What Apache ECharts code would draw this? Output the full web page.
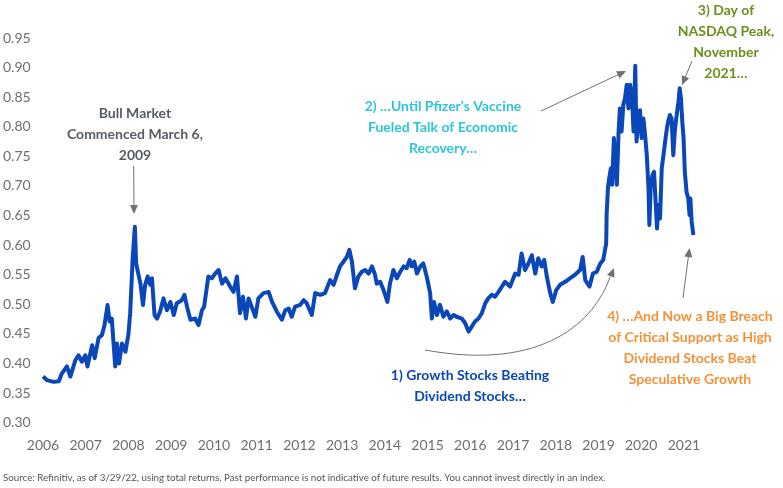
<!DOCTYPE html>
<html>
<head>
<meta charset="utf-8">
<script src="https://cdn.jsdelivr.net/npm/echarts@6/dist/echarts.min.js"></script>
<style>
    html, body { margin: 0; padding: 0; background: #fff; }
    #ratioChart { width: 783px; height: 488px; }
</style>
</head>
<body>
<div id="ratioChart"></div>
<script>
// decimal year of each reading
var years = [
    2006.00, 2006.09, 2006.25, 2006.37, 2006.44, 2006.56, 2006.64, 2006.76, 2006.83, 2006.91,
    2006.99, 2007.04, 2007.15, 2007.21, 2007.30, 2007.38, 2007.44, 2007.51, 2007.56, 2007.61,
    2007.69, 2007.73, 2007.78, 2007.85, 2007.93, 2008.00, 2008.04, 2008.10, 2008.15, 2008.18,
    2008.23, 2008.28, 2008.34, 2008.39, 2008.45, 2008.51, 2008.55, 2008.61, 2008.67, 2008.74,
    2008.82, 2008.90, 2008.98, 2009.06, 2009.13, 2009.25, 2009.31, 2009.37, 2009.45, 2009.56,
    2009.64, 2009.72, 2009.77, 2009.87, 2009.95, 2010.03, 2010.11, 2010.19, 2010.27, 2010.38,
    2010.46, 2010.54, 2010.61, 2010.68, 2010.75, 2010.81, 2010.85, 2010.97, 2011.04, 2011.16,
    2011.28, 2011.36, 2011.47, 2011.59, 2011.67, 2011.75, 2011.82, 2011.90, 2012.02, 2012.10,
    2012.17, 2012.29, 2012.37, 2012.49, 2012.60, 2012.72, 2012.80, 2012.88, 2012.95, 2013.03,
    2013.11, 2013.17, 2013.23, 2013.30, 2013.38, 2013.46, 2013.54, 2013.62, 2013.70, 2013.77,
    2013.81, 2013.89, 2013.97, 2014.06, 2014.12, 2014.20, 2014.28, 2014.36, 2014.44, 2014.51,
    2014.58, 2014.63, 2014.69, 2014.75, 2014.83, 2014.90, 2014.98, 2015.06, 2015.10, 2015.15,
    2015.22, 2015.29, 2015.37, 2015.45, 2015.53, 2015.61, 2015.68, 2015.80, 2015.88, 2015.96,
    2016.03, 2016.11, 2016.19, 2016.27, 2016.35, 2016.42, 2016.50, 2016.58, 2016.66, 2016.70,
    2016.81, 2016.93, 2017.05, 2017.13, 2017.20, 2017.28, 2017.36, 2017.44, 2017.52, 2017.59,
    2017.67, 2017.73, 2017.79, 2017.87, 2017.93, 2018.01, 2018.10, 2018.22, 2018.33, 2018.45,
    2018.57, 2018.63, 2018.69, 2018.79, 2018.87, 2018.96, 2019.04, 2019.11, 2019.18, 2019.19,
    2019.22, 2019.25, 2019.29, 2019.32, 2019.36, 2019.40, 2019.43, 2019.47, 2019.50, 2019.54,
    2019.58, 2019.62, 2019.66, 2019.70, 2019.74, 2019.78, 2019.82, 2019.86, 2019.89, 2019.93,
    2019.97, 2020.01, 2020.05, 2020.09, 2020.13, 2020.17, 2020.19, 2020.22, 2020.26, 2020.30,
    2020.34, 2020.37, 2020.40, 2020.44, 2020.48, 2020.52, 2020.56, 2020.60, 2020.63, 2020.67,
    2020.71, 2020.75, 2020.79, 2020.83, 2020.87, 2020.90, 2020.93, 2020.96, 2020.99, 2021.02,
    2021.06, 2021.10, 2021.13, 2021.15, 2021.18, 2021.22
];
// dividend / growth ratio
var ratio = [
    0.378, 0.372, 0.369, 0.370, 0.383, 0.395, 0.378, 0.406, 0.414, 0.403,
    0.414, 0.395, 0.431, 0.409, 0.443, 0.448, 0.465, 0.499, 0.471, 0.476,
    0.395, 0.434, 0.400, 0.434, 0.420, 0.450, 0.485, 0.580, 0.631, 0.569,
    0.552, 0.535, 0.499, 0.533, 0.547, 0.533, 0.544, 0.482, 0.476, 0.488,
    0.510, 0.490, 0.504, 0.482, 0.502, 0.507, 0.516, 0.496, 0.474, 0.476,
    0.465, 0.490, 0.496, 0.547, 0.544, 0.552, 0.558, 0.535, 0.544, 0.530,
    0.521, 0.547, 0.485, 0.513, 0.476, 0.510, 0.507, 0.479, 0.510, 0.519,
    0.521, 0.504, 0.488, 0.474, 0.490, 0.493, 0.479, 0.496, 0.499, 0.507,
    0.502, 0.482, 0.519, 0.516, 0.519, 0.541, 0.533, 0.550, 0.564, 0.572,
    0.580, 0.592, 0.572, 0.527, 0.547, 0.555, 0.558, 0.552, 0.564, 0.550,
    0.535, 0.538, 0.524, 0.504, 0.535, 0.558, 0.544, 0.555, 0.564, 0.561,
    0.575, 0.564, 0.572, 0.552, 0.564, 0.569, 0.547, 0.519, 0.476, 0.504,
    0.482, 0.499, 0.479, 0.488, 0.476, 0.482, 0.479, 0.476, 0.468, 0.454,
    0.462, 0.471, 0.476, 0.485, 0.502, 0.510, 0.516, 0.513, 0.521, 0.521,
    0.538, 0.530, 0.552, 0.550, 0.586, 0.558, 0.569, 0.583, 0.552, 0.578,
    0.564, 0.575, 0.547, 0.519, 0.504, 0.524, 0.533, 0.538, 0.544, 0.550,
    0.558, 0.580, 0.541, 0.530, 0.552, 0.555, 0.569, 0.575, 0.603, 0.651,
    0.696, 0.713, 0.730, 0.702, 0.781, 0.735, 0.702, 0.792, 0.831, 0.792,
    0.837, 0.848, 0.871, 0.831, 0.871, 0.854, 0.792, 0.903, 0.775, 0.809,
    0.828, 0.781, 0.814, 0.786, 0.752, 0.696, 0.634, 0.696, 0.718, 0.724,
    0.668, 0.628, 0.668, 0.645, 0.730, 0.752, 0.775, 0.797, 0.809, 0.820,
    0.814, 0.752, 0.797, 0.820, 0.842, 0.865, 0.848, 0.809, 0.781, 0.724,
    0.690, 0.679, 0.651, 0.679, 0.640, 0.617
];
var yearTicks = [2006, 2007, 2008, 2009, 2010, 2011, 2012, 2013, 2014, 2015, 2016, 2017, 2018, 2019, 2020, 2021];

var notes = [
    {text: 'Bull Market\nCommenced March 6,\n2009', x: 135, y: 103, color: '#565c63'},
    {text: "2) \u2026Until Pfizer's Vaccine\nFueled Talk of Economic\nRecovery\u2026", x: 443, y: 96, color: '#2cc6d6'},
    {text: '3) Day of\nNASDAQ Peak,\nNovember\n2021\u2026', x: 726, y: 0, color: '#6b8f1e'},
    {text: '1) Growth Stocks Beating\nDividend Stocks\u2026', x: 470, y: 365, color: '#0a47b8'},
    {text: '4) \u2026And Now a Big Breach\nof Critical Support as High\nDividend Stocks Beat\nSpeculative Growth', x: 690, y: 306, color: '#f39237'}
];

var arrowColor = '#6d7278';

var arrowHead = function (x, y, angle) {
    // small filled triangle pointing along angle (radians)
    var len = 9, half = 4;
    var bx = x - len * Math.cos(angle), by = y - len * Math.sin(angle);
    var px = -Math.sin(angle) * half, py = Math.cos(angle) * half;
    return {
        type: 'polygon',
        shape: {points: [[x, y], [bx + px, by + py], [bx - px, by - py]]},
        style: {fill: arrowColor}
    };
};

var arrow = function (x1, y1, x2, y2) {
    var a = Math.atan2(y2 - y1, x2 - x1);
    return [
        {type: 'line', shape: {x1: x1, y1: y1, x2: x2 - 6 * Math.cos(a), y2: y2 - 6 * Math.sin(a)},
         style: {stroke: arrowColor, lineWidth: 1}},
        arrowHead(x2, y2, a)
    ];
};

var getGraphics = function () {
    var g = [];
    notes.forEach(function (n) {
        g.push({
            type: 'text', x: n.x, y: n.y,
            style: {
                text: n.text, fill: n.color, textAlign: 'center', textVerticalAlign: 'top',
                font: 'bold 14px Lato, "Open Sans", sans-serif', lineHeight: 21
            }
        });
    });
    g = g.concat(arrow(133.7, 166, 134, 214));
    g = g.concat(arrow(541, 111, 626, 71));
    g = g.concat(arrow(692, 61, 682, 85));
    g = g.concat(arrow(683, 298, 689.5, 248));
    g.push({
        type: 'bezierCurve',
        shape: {x1: 425, y1: 350, cpx1: 545, cpy1: 372, cpx2: 595, cpy2: 320, x2: 610, y2: 277},
        style: {stroke: arrowColor, lineWidth: 1, fill: null}
    });
    g.push(arrowHead(614, 268, Math.atan2(-9, 3.5)));
    g.push({
        type: 'text', x: 3, y: 478,
        style: {
            text: 'Source: Refinitiv, as of 3/29/22, using total returns. Past performance is not indicative of future results. You cannot invest directly in an index.',
            fill: '#555', font: '9.75px Lato, "Open Sans", sans-serif', textVerticalAlign: 'middle'
        }
    });
    return g;
};

var getOption = function () {
    var lineData = years.map(function (y, i) { return [y, ratio[i]]; });
    return {
        animation: false,
        grid: {left: 42.7, right: 56.3, top: 38, bottom: 65.3},
        xAxis: {
            type: 'value',
            min: 2006,
            max: 2022,
            interval: 1,
            axisLine: {show: false},
            axisTick: {show: false},
            splitLine: {show: false},
            axisLabel: {
                color: '#6b6f74',
                fontSize: 14,
                fontFamily: 'Lato',
                margin: 16,
                formatter: function (v) { return yearTicks.indexOf(v) >= 0 ? String(v) : ''; }
            }
        },
        yAxis: {
            type: 'value',
            min: 0.3,
            max: 0.95,
            interval: 0.05,
            axisLine: {show: false},
            axisTick: {show: false},
            splitLine: {show: false},
            axisLabel: {
                color: '#6b6f74',
                fontSize: 14,
                fontFamily: 'Lato',
                align: 'left',
                margin: 40,
                formatter: function (v) { return v.toFixed(2); }
            }
        },
        series: [
            {
                name: 'ratio',
                type: 'line',
                showSymbol: false,
                data: lineData,
                lineStyle: {color: '#0a47b8', width: 4, join: 'round'}
            }
        ],
        graphic: getGraphics()
    };
};

var myChart = echarts.init(document.getElementById('ratioChart'));
myChart.setOption(getOption());
window.onresize = myChart.resize;
</script>
</body>
</html>
